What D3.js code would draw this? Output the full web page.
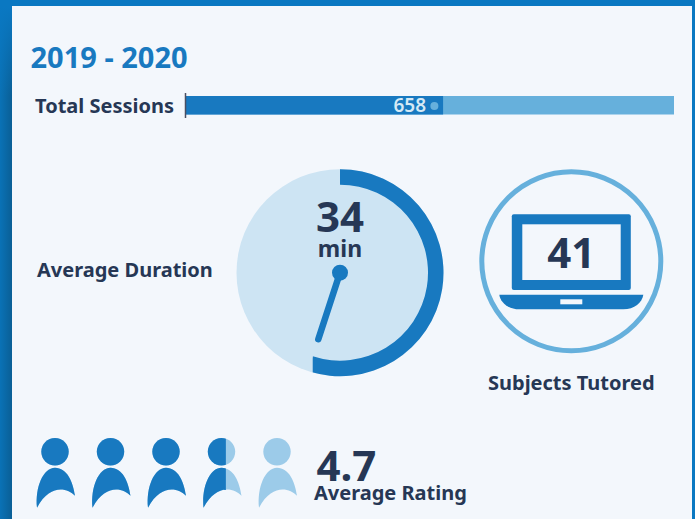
<!DOCTYPE html>
<meta charset="utf-8">
<style>

body, html{
    margin: 0;
    background: #0a78c2;
}

svg{
    display: block;
}

text{
    font-family: "Noto Sans", "Open Sans", sans-serif;
    font-weight: 700;
    fill: #263755;
}

</style>
<svg></svg>
<script src="https://d3js.org/d3.v7.min.js"></script>
<script>

var yearLabel = ['2019 - 2020'];
var sessions = [658];
var sessionsMax = [1249];
var duration = [34];
var durationMax = [61.8]; // the dial in the picture is not quite a 60 minute one
var subjects = [41];
var rating = ['4.7'];
var people = [0, 1, 2, 3, 4];
var peopleFilled = [3.58]; // where the fill stops on the icons, as drawn

var width = 695;
var height = 519;

var blue = '#1879c0';
var midBlue = '#66b0dc';
var lightBlue = '#9ccbe9';
var paleBlue = '#cde4f3';
var panel = '#f3f7fc';

var svg = d3.select('svg')
  .attr('width', width)
  .attr('height', height);

var defs = svg.append('defs');

var edge = defs.append('linearGradient').attr('id', 'edge');
edge.append('stop').attr('offset', '0%').attr('stop-color', '#0a72b6');
edge.append('stop').attr('offset', '100%').attr('stop-color', '#0a5f96');

var fade = defs.append('linearGradient').attr('id', 'fade')
  .attr('x1', 0).attr('x2', 0).attr('y1', 0).attr('y2', 1);
fade.append('stop').attr('offset', '0%').attr('stop-color', '#0a78c2').attr('stop-opacity', 1);
fade.append('stop').attr('offset', '100%').attr('stop-color', '#0a78c2').attr('stop-opacity', 0);

// frame and panel
svg.append('rect').attr('width', width).attr('height', height).attr('fill', '#0a78c2');
svg.append('rect').attr('y', 6).attr('width', 12).attr('height', height - 6).attr('fill', 'url(#edge)');
svg.append('rect').attr('y', 6).attr('width', 12).attr('height', 90).attr('fill', 'url(#fade)');
svg.append('rect').attr('x', 12).attr('y', 6).attr('width', 680).attr('height', height - 6).attr('fill', panel);

svg.append('text').attr('x', 30.5).attr('y', 68)
  .style('font-size', '29px').style('fill', blue)
  .text(yearLabel[0]);

// total sessions bar
var barX = d3.scaleLinear().domain([0, sessionsMax[0]]).range([186, 674]);
var barY = 96, barH = 18.5;

svg.append('text').attr('x', 35).attr('y', 113).style('font-size', '20px').text('Total Sessions');

svg.append('rect')
  .attr('x', barX(0)).attr('y', barY)
  .attr('width', barX(sessionsMax[0]) - barX(0)).attr('height', barH)
  .attr('fill', midBlue);

svg.selectAll('.bar').data(sessions).enter().append('rect')
  .attr('class', 'bar')
  .attr('x', barX(0)).attr('y', barY)
  .attr('width', function (d) { return barX(d) - barX(0); }).attr('height', barH)
  .attr('fill', blue);

svg.append('line')
  .attr('x1', 185.5).attr('x2', 185.5).attr('y1', 93).attr('y2', 118)
  .attr('stroke', '#4a4f63').attr('stroke-width', 1.5);

svg.append('text').attr('x', barX(sessions[0]) - 17).attr('y', 112)
  .attr('text-anchor', 'end')
  .style('font-size', '19px').style('font-weight', 600).style('fill', '#d5e9f5')
  .text(sessions[0]);

svg.append('circle').attr('cx', barX(sessions[0]) - 8.7).attr('cy', 106).attr('r', 4).attr('fill', midBlue);

// duration dial
var dialX = 340, dialY = 272.7, dialR = 103.5, dialIn = 88;
var angle = d3.scaleLinear().domain([0, durationMax[0]]).range([0, 2 * Math.PI]);
var end = angle(duration[0]);

svg.append('text').attr('x', 37).attr('y', 277).style('font-size', '20px').text('Average Duration');

var dial = svg.append('g').attr('transform', 'translate(' + dialX + ',' + dialY + ')');

dial.append('circle').attr('r', dialR).attr('fill', paleBlue);

// the ring stops on a straight vertical cut, not on a radius
defs.append('clipPath').attr('id', 'ringcut').append('rect')
  .attr('x', dialIn * Math.sin(end)).attr('y', -dialR - 1)
  .attr('width', 2 * dialR + 2).attr('height', 2 * dialR + 2);

dial.append('path')
  .attr('clip-path', 'url(#ringcut)')
  .attr('d', d3.arc()({ innerRadius: dialIn, outerRadius: dialR, startAngle: 0, endAngle: end }))
  .attr('fill', blue);

dial.append('line')
  .attr('x1', 0).attr('y1', 0)
  .attr('x2', 70 * Math.sin(end)).attr('y2', -70 * Math.cos(end))
  .attr('stroke', blue).attr('stroke-width', 6.5).attr('stroke-linecap', 'round');

dial.append('circle').attr('r', 8).attr('fill', blue);

svg.append('text').attr('x', dialX).attr('y', 231.7).attr('text-anchor', 'middle')
  .style('font-size', '42px').text(duration[0]);
svg.append('text').attr('x', dialX).attr('y', 256.5).attr('text-anchor', 'middle')
  .style('font-size', '23px').text('min');

// subjects laptop
var lapX = 571.3, lapY = 261.3;
var lap = svg.append('g').attr('transform', 'translate(' + lapX + ',' + lapY + ')');

lap.append('circle').attr('r', 89.5).attr('fill', 'none').attr('stroke', midBlue).attr('stroke-width', 5);
lap.append('rect').attr('x', -59.5).attr('y', -47).attr('width', 119).attr('height', 75.7).attr('rx', 2).attr('fill', blue);
lap.append('rect').attr('x', -49).attr('y', -37).attr('width', 98.4).attr('height', 55.7).attr('fill', panel);
lap.append('path')
  .attr('d', 'M-72,33.4H72C71,41 63,48 52,48H-52C-63,48 -71,41 -72,33.4Z')
  .attr('fill', blue);
lap.append('rect').attr('x', -11).attr('y', 38).attr('width', 22).attr('height', 5).attr('fill', panel);

svg.append('text').attr('x', lapX).attr('y', 268.3).attr('text-anchor', 'middle')
  .style('font-size', '42px').text(subjects[0]);
svg.append('text').attr('x', lapX).attr('y', 390).attr('text-anchor', 'middle')
  .style('font-size', '20px').text('Subjects Tutored');

// rating people
var personX = d3.scalePoint().domain(people).range([55, 277]);
var personY = 451.7;
var bodyPath = 'M-18,56C-20,36 -12,16 0,16C12,16 18,30 20,44C12,36 -5,32 -18,56Z';

function drawPerson(sel, color) {
  sel.append('circle').attr('r', 13.7).attr('fill', color);
  sel.append('path').attr('d', bodyPath).attr('fill', color);
}

var iconLeft = -20, iconW = 42;

people.forEach(function (p) {
  var g = svg.append('g').attr('transform', 'translate(' + personX(p) + ',' + personY + ')');
  drawPerson(g, lightBlue);
  var share = Math.max(0, Math.min(1, peopleFilled[0] - p));
  if (share > 0) {
    defs.append('clipPath').attr('id', 'share' + p).append('rect')
      .attr('x', iconLeft).attr('y', -20)
      .attr('width', iconW * share).attr('height', 90);
    drawPerson(g.append('g').attr('clip-path', 'url(#share' + p + ')'), blue);
  }
});

svg.append('text').attr('x', 316.5).attr('y', 480.7).style('font-size', '42px').text(rating[0]);
svg.append('text').attr('x', 314).attr('y', 500).style('font-size', '20px').text('Average Rating');

</script>
